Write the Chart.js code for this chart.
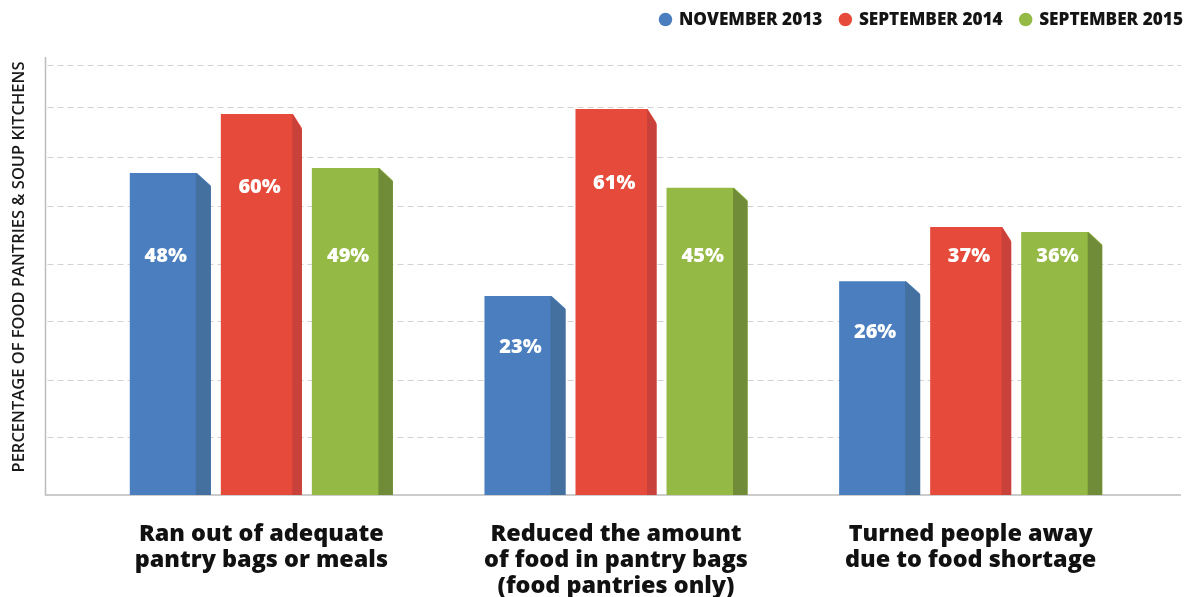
<!DOCTYPE html>
<html><head><meta charset="utf-8">
<script src="https://cdn.jsdelivr.net/npm/chart.js@4.4.0/dist/chart.umd.min.js"></script>
<style>html,body{margin:0;padding:0;background:#fff;}#wrap{width:1186px;height:597px;position:relative;}</style>
</head><body><div id="wrap"><canvas id="c" width="1186" height="597"></canvas></div>
<script>
// ---- data ----
const categories = [
  ["Ran out of adequate", "pantry bags or meals"],
  ["Reduced the amount", "of food in pantry bags", "(food pantries only)"],
  ["Turned people away", "due to food shortage"]
];
const seriesNames = ["NOVEMBER 2013", "SEPTEMBER 2014", "SEPTEMBER 2015"];
const nov2013 = [48, 23, 26];
const sep2014 = [60, 61, 37];
const sep2015 = [49, 45, 36];
const gridValues = [-5.8, 5.9, 17.8, 29.4, 41.2, 51.2, 61.5, 70];
const yTitle = "PERCENTAGE OF FOOD PANTRIES & SOUP KITCHENS";

// ---- style ----
const FRONT = ['#4a7ebf', '#e64a3a', '#94b944'];
const SIDE = ['#44709f', '#c8413a', '#718c38'];
const SIDE_W = [15, 9.5, 14.5];
const SIDE_DROP = [13.5, 15.5, 13.5];
const Y_MIN = -17.5, Y_MAX = 71.6;
const AXIS_X = 45.5, GRID_END = 1181;
const TITLE_SHIFT = 9;
const FONT = '"Open Sans", "Noto Sans", sans-serif';

function labelLevel(v) {
  if (v >= 55) return v - 15;
  if (v < 30) return v - 10.5;
  return 31.1;
}

const deco = {
  id: 'deco',
  beforeDraw(chart) {
    // nudge only the y-axis title upward while the axis box is drawn
    const s = chart.scales.y;
    s.top -= TITLE_SHIFT;
    s.bottom -= TITLE_SHIFT;
  },
  beforeDatasetsDraw(chart) {
    const {ctx, chartArea, scales: {y}} = chart;
    y.top += TITLE_SHIFT;
    y.bottom += TITLE_SHIFT;
    ctx.save();
    ctx.strokeStyle = '#d2d2d2';
    ctx.lineWidth = 1;
    ctx.setLineDash([6, 4]);
    gridValues.forEach(v => {
      const py = Math.round(y.getPixelForValue(v)) + 0.5;
      ctx.beginPath(); ctx.moveTo(AXIS_X + 2, py); ctx.lineTo(GRID_END, py); ctx.stroke();
    });
    ctx.setLineDash([]);
    ctx.strokeStyle = '#bcbcbc';
    ctx.lineWidth = 1.5;
    const by = y.getPixelForValue(Y_MIN);
    ctx.beginPath();
    ctx.moveTo(AXIS_X, chartArea.top); ctx.lineTo(AXIS_X, by); ctx.lineTo(GRID_END, by);
    ctx.stroke();
    ctx.restore();
  },
  afterDatasetsDraw(chart) {
    const {ctx, scales: {y}} = chart;
    ctx.save();
    chart.data.datasets.forEach((ds, i) => {
      const meta = chart.getDatasetMeta(i);
      meta.data.forEach((bar, j) => {
        const {x, y: top, base, width} = bar.getProps(['x', 'y', 'base', 'width'], true);
        const right = x + width / 2, left = x - width / 2;
        const fr = right - SIDE_W[i];
        const drop = SIDE_DROP[i];
        ctx.fillStyle = '#ffffff';
        ctx.beginPath();
        ctx.moveTo(fr, top - 1); ctx.lineTo(right + 1, top - 1); ctx.lineTo(right + 1, top + drop); ctx.closePath();
        ctx.fill();
        ctx.fillStyle = SIDE[i];
        ctx.beginPath();
        ctx.moveTo(fr, top); ctx.lineTo(right, top + drop); ctx.lineTo(right, base); ctx.lineTo(fr, base); ctx.closePath();
        ctx.fill();
        const v = ds.data[j];
        ctx.fillStyle = '#ffffff';
        ctx.font = '800 20px ' + FONT;
        ctx.textAlign = 'center';
        ctx.textBaseline = 'middle';
        ctx.fillText(v + '%', (left + fr) / 2 + 3, y.getPixelForValue(labelLevel(v)));
      });
    });
    ctx.restore();
  },
  afterDraw(chart) {
    const {ctx} = chart;
    ctx.save();
    ctx.font = '800 17.2px ' + FONT;
    ctx.textBaseline = 'middle';
    ctx.textAlign = 'left';
    let cursor = 1183;
    for (let i = seriesNames.length - 1; i >= 0; i--) {
      const w = ctx.measureText(seriesNames[i]).width;
      const ts = cursor - w;
      ctx.fillStyle = '#141414';
      ctx.fillText(seriesNames[i], ts, 20);
      const cx = ts - 13.5;
      ctx.fillStyle = FRONT[i];
      ctx.beginPath(); ctx.arc(cx, 19.5, 6.75, 0, Math.PI * 2); ctx.fill();
      cursor = cx - 23;
    }
    ctx.restore();
  }
};

const seriesValues = [nov2013, sep2014, sep2015];
new Chart(document.getElementById('c'), {
  type: 'bar',
  data: {
    labels: categories,
    datasets: seriesValues.map((d, i) => ({
      label: seriesNames[i], data: d, backgroundColor: FRONT[i], base: Y_MIN, borderWidth: 0
    }))
  },
  options: {
    responsive: false,
    animation: false,
    layout: {padding: {top: 57, right: 38, bottom: 0, left: 0}},
    plugins: {legend: {display: false}, tooltip: {enabled: false}},
    datasets: {bar: {categoryPercentage: 0.77, barPercentage: 0.89}},
    scales: {
      x: {
        grid: {display: false}, border: {display: false},
        ticks: {padding: 18, color: '#111', maxRotation: 0, autoSkip: false,
          font: {family: FONT, size: 23.4, weight: '800', lineHeight: 26 / 23.4}},
        afterFit(s) { s.height = 102; }
      },
      y: {
        min: Y_MIN, max: Y_MAX,
        grid: {display: false}, border: {display: false},
        ticks: {display: false},
        title: {display: true, text: yTitle, color: '#1a1a1a',
          font: {family: FONT, size: 16.5, weight: '600', lineHeight: 1.2},
          padding: {top: 9.1, bottom: 0}},
        afterFit(s) { s.width = 84; }
      }
    }
  },
  plugins: [deco]
});
</script></body></html>
